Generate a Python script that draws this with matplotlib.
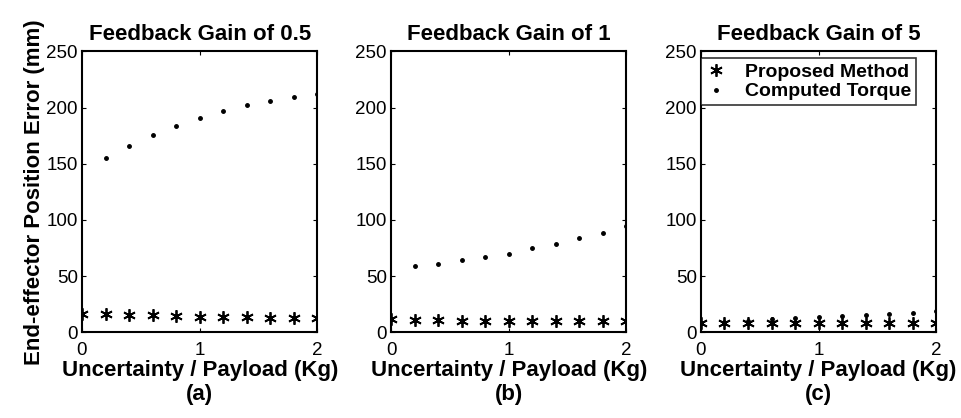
import matplotlib
matplotlib.use('Agg')
import matplotlib.pyplot as plt
import numpy as np

plt.rcParams['font.family'] = ['Liberation Sans', 'DejaVu Sans']

# payload uncertainty (kg)
payload = [0.0, 0.2, 0.4, 0.6, 0.8, 1.0, 1.2, 1.4, 1.6, 1.8, 2.0]
payload_ct = [0.2, 0.4, 0.6, 0.8, 1.0, 1.2, 1.4, 1.6, 1.8, 2.0]

# gain 0.5
proposed_a = [16.5, 16, 15.5, 15, 14.5, 14, 14, 13.5, 13, 13, 12.5]
computed_a = [155, 166, 176, 184, 191, 197, 202, 206, 209, 212]
# gain 1
proposed_b = [11.5, 11, 11, 10.5, 10.5, 10, 10, 10, 10, 10, 10]
computed_b = [59, 60.5, 64, 67, 70, 75, 79, 84, 88.5, 94.5]
# gain 5
proposed_c = [8, 8, 8, 8, 8, 8, 8, 8, 8, 8, 8]
computed_c = [9.5, 10.5, 11.5, 12.5, 13.5, 14.5, 15.5, 16.5, 17.5, 19]

titles = ['Feedback Gain of 0.5', 'Feedback Gain of 1', 'Feedback Gain of 5']
tags = ['(a)', '(b)', '(c)']
proposed = [proposed_a, proposed_b, proposed_c]
computed = [computed_a, computed_b, computed_c]
lefts = [0.0853, 0.4069, 0.7294]

fig = plt.figure(figsize=(9.61, 4.18), dpi=100)

for i in range(3):
    ax = fig.add_axes([lefts[i], 0.205, 0.245, 0.672])
    ax.plot(payload, proposed[i], linestyle='none', marker=(6, 2, 0),
            markersize=9, markeredgewidth=1.3, color='black', label='Proposed Method')
    ax.plot(payload_ct, computed[i], linestyle='none', marker='.',
            markersize=5, color='black', label='Computed Torque')
    ax.set_xlim(0, 2)
    ax.set_ylim(0, 250)
    ax.set_xticks([0, 1, 2])
    ax.set_yticks([0, 50, 100, 150, 200, 250])
    ax.tick_params(direction='in', top=True, right=True, length=3,
                   labelsize=13.5, pad=3)
    ax.tick_params(axis='x', pad=7)
    for s in ax.spines.values():
        s.set_linewidth(1.5)
    ax.set_title(titles[i], fontsize=16, fontweight='bold', pad=8)
    ax.set_xlabel('Uncertainty / Payload (Kg)\n' + tags[i], fontsize=16,
                  fontweight='bold', multialignment='center', labelpad=1,
                  linespacing=1.15)
    if i == 0:
        ax.set_ylabel('End-effector Position Error (mm)', fontsize=16,
                      fontweight='bold', labelpad=1)
    if i == 2:
        leg = ax.legend(loc='upper left', bbox_to_anchor=(0.0, 0.975),
                        frameon=True, fancybox=False, edgecolor='black',
                        prop={'weight': 'bold', 'size': 14}, handlelength=1.0,
                        handletextpad=1.0, borderpad=0.25, labelspacing=0.1,
                        borderaxespad=0.0)
        leg.get_frame().set_linewidth(1.2)

fig.savefig('out.png', dpi=100)
